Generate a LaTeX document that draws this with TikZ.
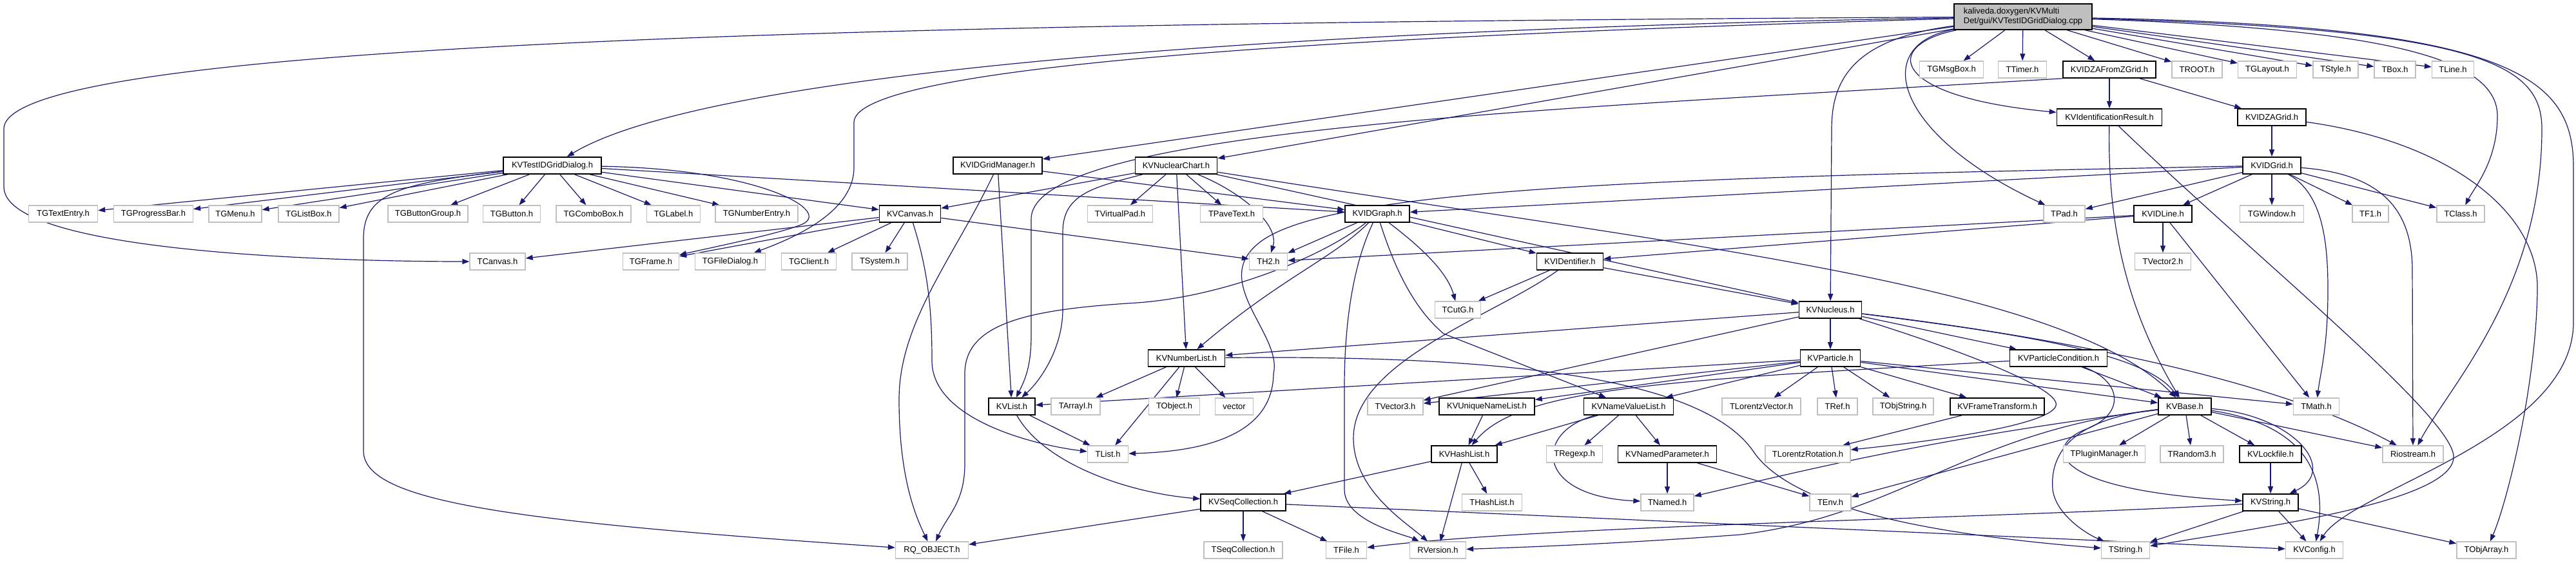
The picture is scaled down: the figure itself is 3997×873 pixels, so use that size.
\documentclass[tikz,border=0pt]{standalone}
\usepackage{fontspec}
\setmainfont{Liberation Sans}
\usetikzlibrary{arrows.meta}
\pgfdeclarelayer{bg}
\pgfsetlayers{bg,main}
\definecolor{edgec}{HTML}{191970}
\definecolor{extb}{HTML}{C0C0C0}
\definecolor{rootf}{HTML}{BFBFBF}
\begin{document}
\begin{tikzpicture}[x=1bp,y=-1bp,
  font=\fontsize{13}{15}\selectfont,
  nb/.style={rectangle,minimum height=26bp,inner sep=0pt,fill=white,anchor=center},
  ext/.style={nb,draw=extb,line width=1.3bp,minimum width=#1bp},
  kv/.style={nb,draw=black,line width=1.6bp,minimum width=#1bp},
  rootn/.style={draw=black,fill=rootf,line width=1.6bp,minimum width=214bp,minimum height=40bp,align=left,inner sep=0pt},
  e/.style={draw=edgec,line width=1.2bp,-{Triangle[length=11bp,width=8bp]}}]
\useasboundingbox (0,0) rectangle (3997,873);
% nodes
\node[rootn] (r) at (3139,26) {kaliveda.doxygen/KVMulti\\Det/gui/KVTestIDGridDialog.cpp};
\node[ext=99] (msg) at (3028,108) {TGMsgBox.h};
\node[ext=75] (tim) at (3138,108) {TTimer.h};
\node[kv=144] (zaf) at (3273,108) {KVIDZAFromZGrid.h};
\node[ext=78] (troot) at (3409,108) {TROOT.h};
\node[ext=91] (tglay) at (3518,108) {TGLayout.h};
\node[ext=70] (tsty) at (3624,108) {TStyle.h};
\node[ext=64] (tbox) at (3716,108) {TBox.h};
\node[ext=65] (tline) at (3806,108) {TLine.h};
\node[kv=163] (idr) at (3273,182) {KVIdentificationResult.h};
\node[kv=106] (zag) at (3525,182) {KVIDZAGrid.h};
\node[kv=152] (tdlg) at (857,257) {KVTestIDGridDialog.h};
\node[kv=138] (mgr) at (1548,257) {KVIDGridManager.h};
\node[kv=127] (nch) at (1825,257) {KVNuclearChart.h};
\node[kv=90] (grid) at (3525,257) {KVIDGrid.h};
\node[ext=107] (tent) at (98,332) {TGTextEntry.h};
\node[ext=123] (tprog) at (238,332) {TGProgressBar.h};
\node[ext=82] (tmenu) at (365,332) {TGMenu.h};
\node[ext=94] (tlb) at (479,332) {TGListBox.h};
\node[ext=124] (tbg) at (664,332) {TGButtonGroup.h};
\node[ext=89] (tbtn) at (794,332) {TGButton.h};
\node[ext=116] (tcombo) at (921,332) {TGComboBox.h};
\node[ext=83] (tlabel) at (1045,332) {TGLabel.h};
\node[ext=128] (tnum) at (1174,332) {TGNumberEntry.h};
\node[kv=95] (kvcan) at (1412,332) {KVCanvas.h};
\node[ext=101] (tvp) at (1738,332) {TVirtualPad.h};
\node[ext=97] (tpave) at (1911,332) {TPaveText.h};
\node[kv=100] (graph) at (2137,332) {KVIDGraph.h};
\node[ext=64] (tpad) at (3203,332) {TPad.h};
\node[kv=90] (idline) at (3356,332) {KVIDLine.h};
\node[ext=99] (tgwin) at (3525,332) {TGWindow.h};
\node[ext=56] (tf1) at (3678,332) {TF1.h};
\node[ext=74] (tclass) at (3818,332) {TClass.h};
\node[ext=86] (tcan) at (772,406) {TCanvas.h};
\node[ext=87] (tgframe) at (1010,406) {TGFrame.h};
\node[ext=109] (tfd) at (1133,406) {TGFileDialog.h};
\node[ext=85] (tgcl) at (1255,406) {TGClient.h};
\node[ext=86] (tsys) at (1365,406) {TSystem.h};
\node[ext=59] (th2) at (1968,406) {TH2.h};
\node[kv=103] (ident) at (2436,406) {KVIDentifier.h};
\node[ext=87] (tv2) at (3356,406) {TVector2.h};
\node[ext=71] (tcutg) at (2262,481) {TCutG.h};
\node[kv=97] (nuc) at (2840,481) {KVNucleus.h};
\node[kv=119] (numl) at (1841,556) {KVNumberList.h};
\node[kv=93] (part) at (2840,556) {KVParticle.h};
\node[kv=151] (pcond) at (3194,556) {KVParticleCondition.h};
\node[kv=72] (kvlist) at (1570,631) {KVList.h};
\node[ext=76] (tarr) at (1669,631) {TArrayI.h};
\node[ext=79] (tobj) at (1822,631) {TObject.h};
\node[ext=59] (vec) at (1915,631) {vector};
\node[ext=86] (tv3) at (2165,631) {TVector3.h};
\node[kv=148] (uniq) at (2307,631) {KVUniqueNameList.h};
\node[kv=139] (nvl) at (2527,631) {KVNameValueList.h};
\node[ext=122] (tlv) at (2733,631) {TLorentzVector.h};
\node[ext=62] (tref) at (2851,631) {TRef.h};
\node[ext=94] (tobjs) at (2953,631) {TObjString.h};
\node[kv=146] (ftrans) at (3099,631) {KVFrameTransform.h};
\node[kv=82] (base) at (3390,631) {KVBase.h};
\node[ext=71] (tmath) at (3594,631) {TMath.h};
\node[ext=63] (tlistn) at (1719,705) {TList.h};
\node[kv=102] (hash) at (2272,705) {KVHashList.h};
\node[ext=87] (treg) at (2443,705) {TRegexp.h};
\node[kv=153] (npar) at (2587,705) {KVNamedParameter.h};
\node[ext=132] (tlr) at (2805,705) {TLorentzRotation.h};
\node[ext=127] (tplug) at (3265,705) {TPluginManager.h};
\node[ext=98] (trand) at (3401,705) {TRandom3.h};
\node[kv=96] (lock) at (3523,705) {KVLockfile.h};
\node[ext=94] (rio) at (3744,705) {Riostream.h};
\node[kv=132] (seq) at (1929,780) {KVSeqCollection.h};
\node[ext=93] (thash) at (2315,780) {THashList.h};
\node[ext=82] (tnamed) at (2587,780) {TNamed.h};
\node[ext=64] (tenv) at (2840,780) {TEnv.h};
\node[kv=86] (kvstr) at (3523,780) {KVString.h};
\node[ext=113] (rq) at (1446,854) {RQ\_OBJECT.h};
\node[ext=122] (tseq) at (1929,854) {TSeqCollection.h};
\node[ext=63] (tfile) at (2089,854) {TFile.h};
\node[ext=87] (rver) at (2231,854) {RVersion.h};
\node[ext=75] (tstr) at (3298,854) {TString.h};
\node[ext=89] (kvconf) at (3591,854) {KVConfig.h};
\node[ext=92] (tobja) at (3858,854) {TObjArray.h};
% edges
\begin{pgfonlayer}{bg}
% root
\draw[e] (r) .. controls (2000,45) and (1100,110) .. (tdlg);
\draw[e] (r) .. controls (1500,35) and (6,60) .. (6,200) -- (6,290) .. controls (6,390) and (500,406) .. (tcan);
\draw[e] (r) .. controls (2100,55) and (1325,100) .. (1325,190) -- (1325,260) .. controls (1325,330) and (1230,370) .. (tfd);
\draw[e] (r) -- (mgr);
\draw[e] (r) -- (nch);
\draw[e] (r) .. controls (2880,60) and (2842,120) .. (2842,200) -- (nuc);
\draw[e] (r) .. controls (2900,70) and (2940,210) .. (tpad);
\draw[e] (r) .. controls (2920,70) and (2930,150) .. (idr);
\foreach \nn in {msg,tim,zaf,troot,tglay,tsty,tbox,tline} \draw[e] (r) -- (\nn);
\draw[e] (r) .. controls (3700,45) and (3875,90) .. (3875,180) .. controls (3875,250) and (3840,290) .. (tclass);
\draw[e] (r) .. controls (3850,45) and (3944,100) .. (3944,200) .. controls (3944,450) and (3800,600) .. (rio);
\draw[e] (r) .. controls (3900,40) and (3993,120) .. (3993,260) -- (3993,500) .. controls (3993,680) and (3650,760) .. (kvconf);
% KVTestIDGridDialog
\foreach \nn in {tent,tprog,tmenu,tlb,tbg,tbtn,tcombo,tlabel,tnum,kvcan,graph} \draw[e] (tdlg) -- (\nn);
\draw[e] (tdlg) .. controls (1180,262) and (1300,330) .. (1240,350) .. controls (1200,365) and (1100,385) .. (tgframe);
\draw[e] (tdlg) .. controls (620,285) and (564,300) .. (564,370) -- (564,700) .. controls (564,780) and (800,810) .. (rq);
% KVIDGridManager
\draw[e] (mgr) -- (kvlist);
\draw[e] (mgr) .. controls (1480,400) and (1395,500) .. (1395,620) .. controls (1395,740) and (1420,800) .. (rq);
\draw[e] (mgr) -- (graph);
% KVNuclearChart
\foreach \nn in {kvcan,tvp,tpave,numl,nuc} \draw[e] (nch) -- (\nn);
\draw[e] (nch) .. controls (1930,300) and (1985,350) .. (th2);
\draw[e] (nch) .. controls (1700,290) and (1649,300) .. (1649,360) -- (1649,480) .. controls (1649,540) and (1615,590) .. (kvlist);
\draw[e] (nch) .. controls (2600,380) and (3200,440) .. (base);
% KVCanvas
\foreach \nn in {tcan,tgframe,tgcl,tsys,th2} \draw[e] (kvcan) -- (\nn);
\draw[e] (kvcan) .. controls (1440,420) and (1446,480) .. (1446,560) .. controls (1446,650) and (1600,690) .. (tlistn);
% KVIDZAFromZGrid
\draw[e] (zaf) -- (idr);
\draw[e] (zaf) -- (zag);
\draw[e] (zaf.south west) .. controls (2400,170) and (1600,200) .. (1600,340) -- (1600,520) .. controls (1600,570) and (1590,590) .. (kvlist);
% KVIdentificationResult
\draw[e] (idr) .. controls (3270,350) and (3300,480) .. (base);
\draw[e] (idr) .. controls (3500,400) and (3810,650) .. (3807,710) .. controls (3805,780) and (3500,820) .. (tstr);
% KVIDZAGrid
\draw[e] (zag) -- (grid);
\draw[e] (zag) .. controls (3800,220) and (3940,330) .. (3937,450) .. controls (3935,600) and (3890,780) .. (tobja);
% KVIDGrid
\foreach \nn in {tpad,idline,tgwin,tf1,tclass,graph} \draw[e] (grid) -- (\nn);
\draw[e] (grid) .. controls (3605,300) and (3612,380) .. (3612,450) .. controls (3612,540) and (3600,580) .. (tmath);
\draw[e] (grid) .. controls (3700,270) and (3743,330) .. (3743,420) -- (rio);
\draw[e] (grid) .. controls (2600,275) and (2050,290) .. (1950,380) .. controls (1880,440) and (1990,520) .. (1976,580) .. controls (1975,660) and (1900,700) .. (tlistn);
% KVIDLine
\foreach \nn in {tv2,tmath,ident,th2} \draw[e] (idline) -- (\nn);
% KVIDGraph
\draw[e] (graph) -- (th2);
\draw[e] (graph) -- (ident);
\draw[e] (graph) .. controls (2200,380) and (2245,420) .. (tcutg);
\draw[e] (graph) .. controls (2095,420) and (2086,520) .. (2086,600) -- (2086,760) .. controls (2086,810) and (2180,830) .. (rver);
\draw[e] (graph) .. controls (2165,420) and (2195,480) .. (2240,518) -- (nvl);
\draw[e] (graph) .. controls (2050,400) and (1900,460) .. (1765,470) .. controls (1600,480) and (1497,500) .. (1497,580) -- (1497,720) .. controls (1497,780) and (1470,800) .. (rq);
\draw[e] (graph) .. controls (2070,400) and (1990,430) .. (numl);
% KVIDentifier
\draw[e] (ident) -- (tcutg);
\draw[e] (ident) .. controls (2320,490) and (2100,560) .. (2100,680) .. controls (2100,760) and (2180,810) .. (rver);
\draw[e] (ident) -- (nuc);
% KVNucleus
\foreach \nn in {part,numl,tv3,pcond} \draw[e] (nuc) -- (\nn);
\draw[e] (nuc) .. controls (3000,530) and (3200,600) .. (3190,630) .. controls (3180,660) and (3000,685) .. (tlr);
\draw[e] (nuc) .. controls (3250,530) and (3550,600) .. (rio);
\draw[e] (nuc) .. controls (3150,520) and (3330,550) .. (base);
% KVParticle
\foreach \nn in {tlv,tref,tobjs,ftrans,kvlist,uniq,tv3,nvl,base,tmath} \draw[e] (part) -- (\nn);
% KVParticleCondition
\draw[e] (pcond) -- (base);
\draw[e] (pcond) .. controls (3290,590) and (3300,640) .. (3240,665) .. controls (3170,690) and (3170,760) .. (kvstr);
\draw[e] (pcond) .. controls (2600,590) and (2360,600) .. (hash);
% KVFrameTransform
\draw[e] (ftrans) -- (tlr);
% KVBase
\foreach \nn in {tplug,trand,lock,rio,tenv} \draw[e] (base) -- (\nn);
\draw[e] (base) .. controls (3560,645) and (3630,730) .. (kvstr);
\draw[e] (base) .. controls (3580,660) and (3612,740) .. (kvconf);
\draw[e] (base) .. controls (3220,650) and (3180,700) .. (3185,760) .. controls (3190,800) and (3240,830) .. (tstr);
\draw[e] (base) .. controls (3000,680) and (2800,730) .. (tnamed);
\draw[e] (base) .. controls (3050,670) and (2950,800) .. (2700,830) .. controls (2500,845) and (2350,850) .. (rver);
% KVString
\foreach \nn in {tstr,kvconf,tobja} \draw[e] (kvstr) -- (\nn);
\draw[e] (kvstr) .. controls (3100,805) and (2400,815) .. (tfile);
\draw[e] (lock) -- (kvstr);
% KVNameValueList etc.
\foreach \nn in {hash,treg,npar} \draw[e] (nvl) -- (\nn);
\draw[e] (nvl) .. controls (2380,670) and (2380,770) .. (tnamed);
\draw[e] (uniq) -- (hash);
\foreach \nn in {seq,rver,thash} \draw[e] (hash) -- (\nn);
\draw[e] (npar) -- (tnamed);
\draw[e] (npar) -- (tenv);
\foreach \nn in {rq,tseq,tfile,kvconf} \draw[e] (seq) -- (\nn);
\draw[e] (kvlist) -- (tlistn);
\draw[e] (kvlist) .. controls (1620,720) and (1750,765) .. (seq);
\foreach \nn in {tarr,tlistn,tobj,vec} \draw[e] (numl) -- (\nn);
\draw[e] (numl) .. controls (2400,550) and (2650,600) .. (2720,700) .. controls (2780,790) and (3000,830) .. (tstr);
\end{pgfonlayer}
\end{tikzpicture}
\end{document}
